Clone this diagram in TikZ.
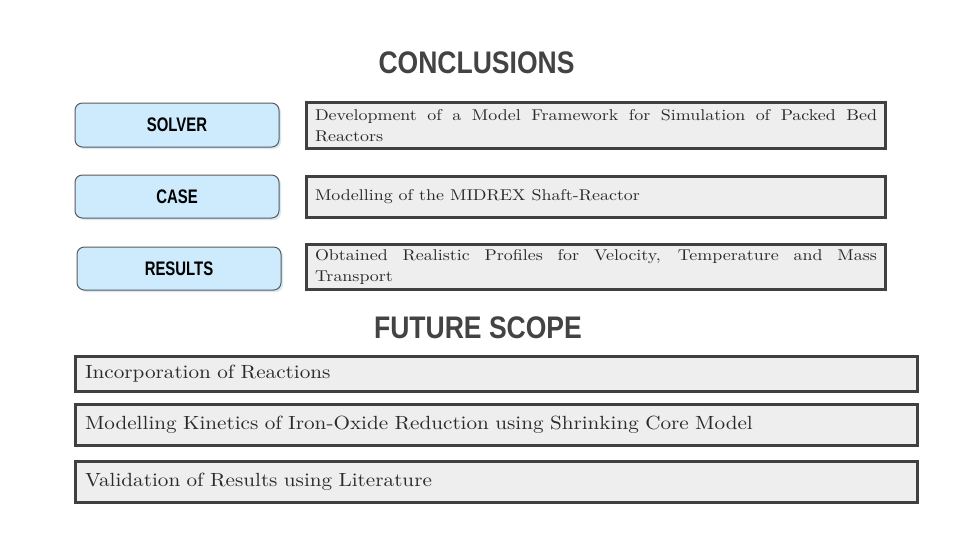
\documentclass[tikz,border=0pt]{standalone}
\usepackage{fontspec}
\usetikzlibrary{shadows}
\newfontfamily\titlefont{Liberation Sans}[FakeStretch=0.85]
\newfontfamily\labelfont{Liberation Sans}[FakeStretch=0.76]
\newfontfamily\bodyfont{lmroman10-regular.otf}[FakeStretch=1.15]
\newfontfamily\scopefont{lmroman10-regular.otf}[FakeStretch=1.11]
\newcommand\nohyphens{\hyphenpenalty=10000\exhyphenpenalty=10000\relax}
\definecolor{titlegray}{HTML}{434343}
\definecolor{boxblue}{HTML}{CDEBFC}
\definecolor{shadowblue}{HTML}{D6EAF6}
\definecolor{labelborder}{HTML}{5A5A5A}
\definecolor{boxgray}{HTML}{EEEEEE}
\definecolor{bordergray}{HTML}{404040}
\definecolor{bodytext}{HTML}{2A2A2A}
\begin{document}
\begin{tikzpicture}[x=0.75pt,y=-0.75pt,
  titletext/.style={font=\titlefont\bfseries\fontsize{23.4}{26}\selectfont, text=titlegray, inner sep=0pt, anchor=base},
  labelbox/.style={draw=labelborder, line width=0.75pt, fill=boxblue, rounded corners=5.5pt,
    minimum width=153pt, minimum height=33pt, inner sep=0pt,
    font=\labelfont\bfseries\fontsize{14.7}{16}\selectfont, text=black,
    drop shadow={shadow xshift=1.5pt, shadow yshift=-1.5pt, fill=shadowblue, opacity=1}},
  factbox/.style={draw=bordergray, line width=2.25pt, fill=boxgray, text width=421.5pt,
    inner xsep=6.4pt, inner ysep=0pt, align=justify,
    font=\bodyfont\fontsize{11.7}{15.75}\selectfont, text=bodytext,
    execute at begin node=\nohyphens},
  scopebox/.style={draw=bordergray, line width=2.25pt, fill=boxgray, text width=617.25pt,
    inner xsep=7.1pt, inner ysep=0pt, align=left,
    font=\scopefont\fontsize{14.3}{17}\selectfont, text=bodytext}]
\useasboundingbox[fill=white] (0,0) rectangle (960,540);

\node[titletext] (t1) at (476.5,73.3) {CONCLUSIONS};

\node[labelbox, minimum height=33pt] (solver) at (177,125) {SOLVER};
\node[labelbox, minimum height=32.25pt] (case) at (177,196.5) {CASE};
\node[labelbox, minimum height=32.25pt] (results) at (179,268.5) {RESULTS};

\node[factbox, minimum height=34.5pt] (f1) at (596,125.5) {Development of a Model Framework for Simulation of Packed Bed Reactors};
\node[factbox, minimum height=30.75pt] (f2) at (596,197) {Modelling of the MIDREX Shaft-Reactor};
\node[factbox, minimum height=33.75pt] (f3) at (596,267) {Obtained Realistic Profiles for Velocity, Temperature and Mass Transport};

\node[titletext] (t2) at (478,338.3) {FUTURE SCOPE};

\node[scopebox, minimum height=26.25pt] (s1) at (496.5,374) {Incorporation of Reactions};
\node[scopebox, minimum height=30.75pt] (s2) at (496.5,425) {Modelling Kinetics of Iron-Oxide Reduction using Shrinking Core Model};
\node[scopebox, minimum height=30.75pt] (s3) at (496.5,482) {Validation of Results using Literature};
\end{tikzpicture}
\end{document}
